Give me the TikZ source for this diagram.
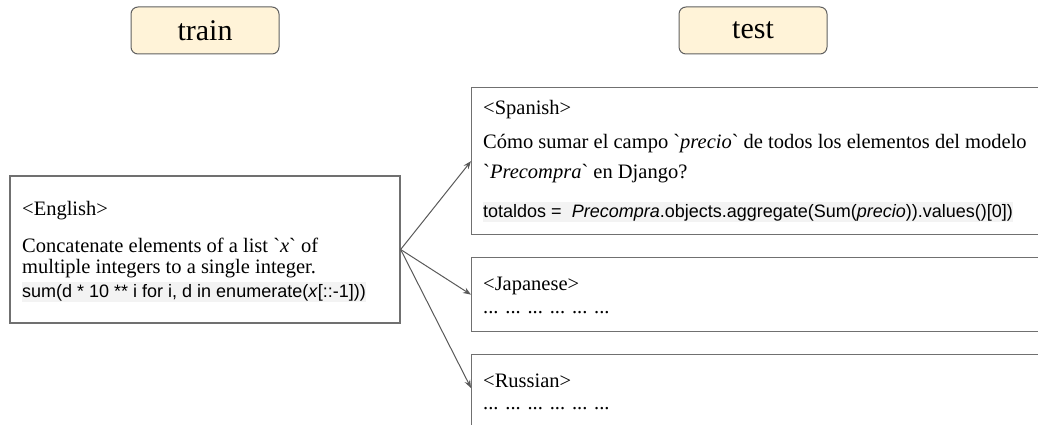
\documentclass[tikz,border=0pt]{standalone}
\usepackage{fontspec}
\setmainfont{Liberation Serif}
\setsansfont{Liberation Sans}
\usetikzlibrary{arrows.meta}
\definecolor{titlefill}{HTML}{FFF3D8}
\definecolor{titleline}{HTML}{606060}
\definecolor{boxline}{HTML}{707070}
\definecolor{codebg}{HTML}{F3F3F3}
\definecolor{arrowcol}{HTML}{595959}
\begin{document}
\begin{tikzpicture}[x=1pt,y=-1pt,
  titlebox/.style={draw=titleline, line width=1pt, fill=titlefill, rounded corners=7pt,
    minimum width=148pt, minimum height=47pt, inner sep=0pt,
    font=\fontsize{30}{36}\selectfont},
  panel/.style={draw=boxline, line width=1.3pt, inner sep=0pt},
  txt/.style={anchor=base west, inner sep=0pt, font=\fontsize{20.5}{24}\selectfont},
  codeline/.style={anchor=base west, inner xsep=0pt, inner ysep=0pt, fill=codebg,
    text height=15.5pt, text depth=5pt, font=\sffamily\fontsize{18}{22}\selectfont},
  link/.style={draw=arrowcol, line width=1pt, -{Stealth[length=8pt,width=6pt]}}]
\useasboundingbox (0,0) rectangle (1038,425);
\clip (0,0) rectangle (1038,425);

% titles
\node[titlebox] (train) at (205,30.5) {train};
\node[titlebox] (test) at (753,30.5) {test};

% panels
\node[panel, minimum width=390pt, minimum height=147pt] (en) at (205,249.5) {};
\node[panel, anchor=north west, minimum width=620pt, minimum height=147pt] (es) at (471,87) {};
\node[panel, anchor=north west, minimum width=620pt, minimum height=74pt] (ja) at (471,257) {};
\node[panel, anchor=north west, minimum width=620pt, minimum height=110pt] (ru) at (471,354) {};

% English
\node[txt] (enlang) at (22,215) {<English>};
\node[txt] (ent1) at (22,252) {Concatenate elements of a list \textasciigrave\textit{x}\textasciigrave{} of};
\node[txt] (ent2) at (22,273) {multiple integers to a single integer.};
\node[codeline] (encode) at (22,297) {sum(d * 10 ** i for i, d in enumerate(\textit{x}[::-1]))};

% Spanish
\node[txt] (eslang) at (483,115) {<Spanish>};
\node[txt] (est1) at (483,148) {Cómo sumar el campo \textasciigrave\textit{precio}\textasciigrave{} de todos los elementos del modelo};
\node[txt] (est2) at (483,178) {\textasciigrave\textit{Precompra}\textasciigrave{} en Django?};
\node[codeline] (escode) at (483,217) {totaldos =\ \ \textit{Precompra}.objects.aggregate(Sum(\textit{precio})).values()[0])};

% Japanese
\node[txt] (jalang) at (483,290) {<Japanese>};
\node[txt] (jadots) at (483,313) {... ... ... ... ... ...};

% Russian
\node[txt] (rulang) at (483,387) {<Russian>};
\node[txt] (rudots) at (483,409) {... ... ... ... ... ...};

% connectors
\coordinate (ruin) at (471,388);
\draw[link] (en.east) -- (es.west);
\draw[link] (en.east) -- (ja.west);
\draw[link] (en.east) -- (ruin);
\end{tikzpicture}
\end{document}
